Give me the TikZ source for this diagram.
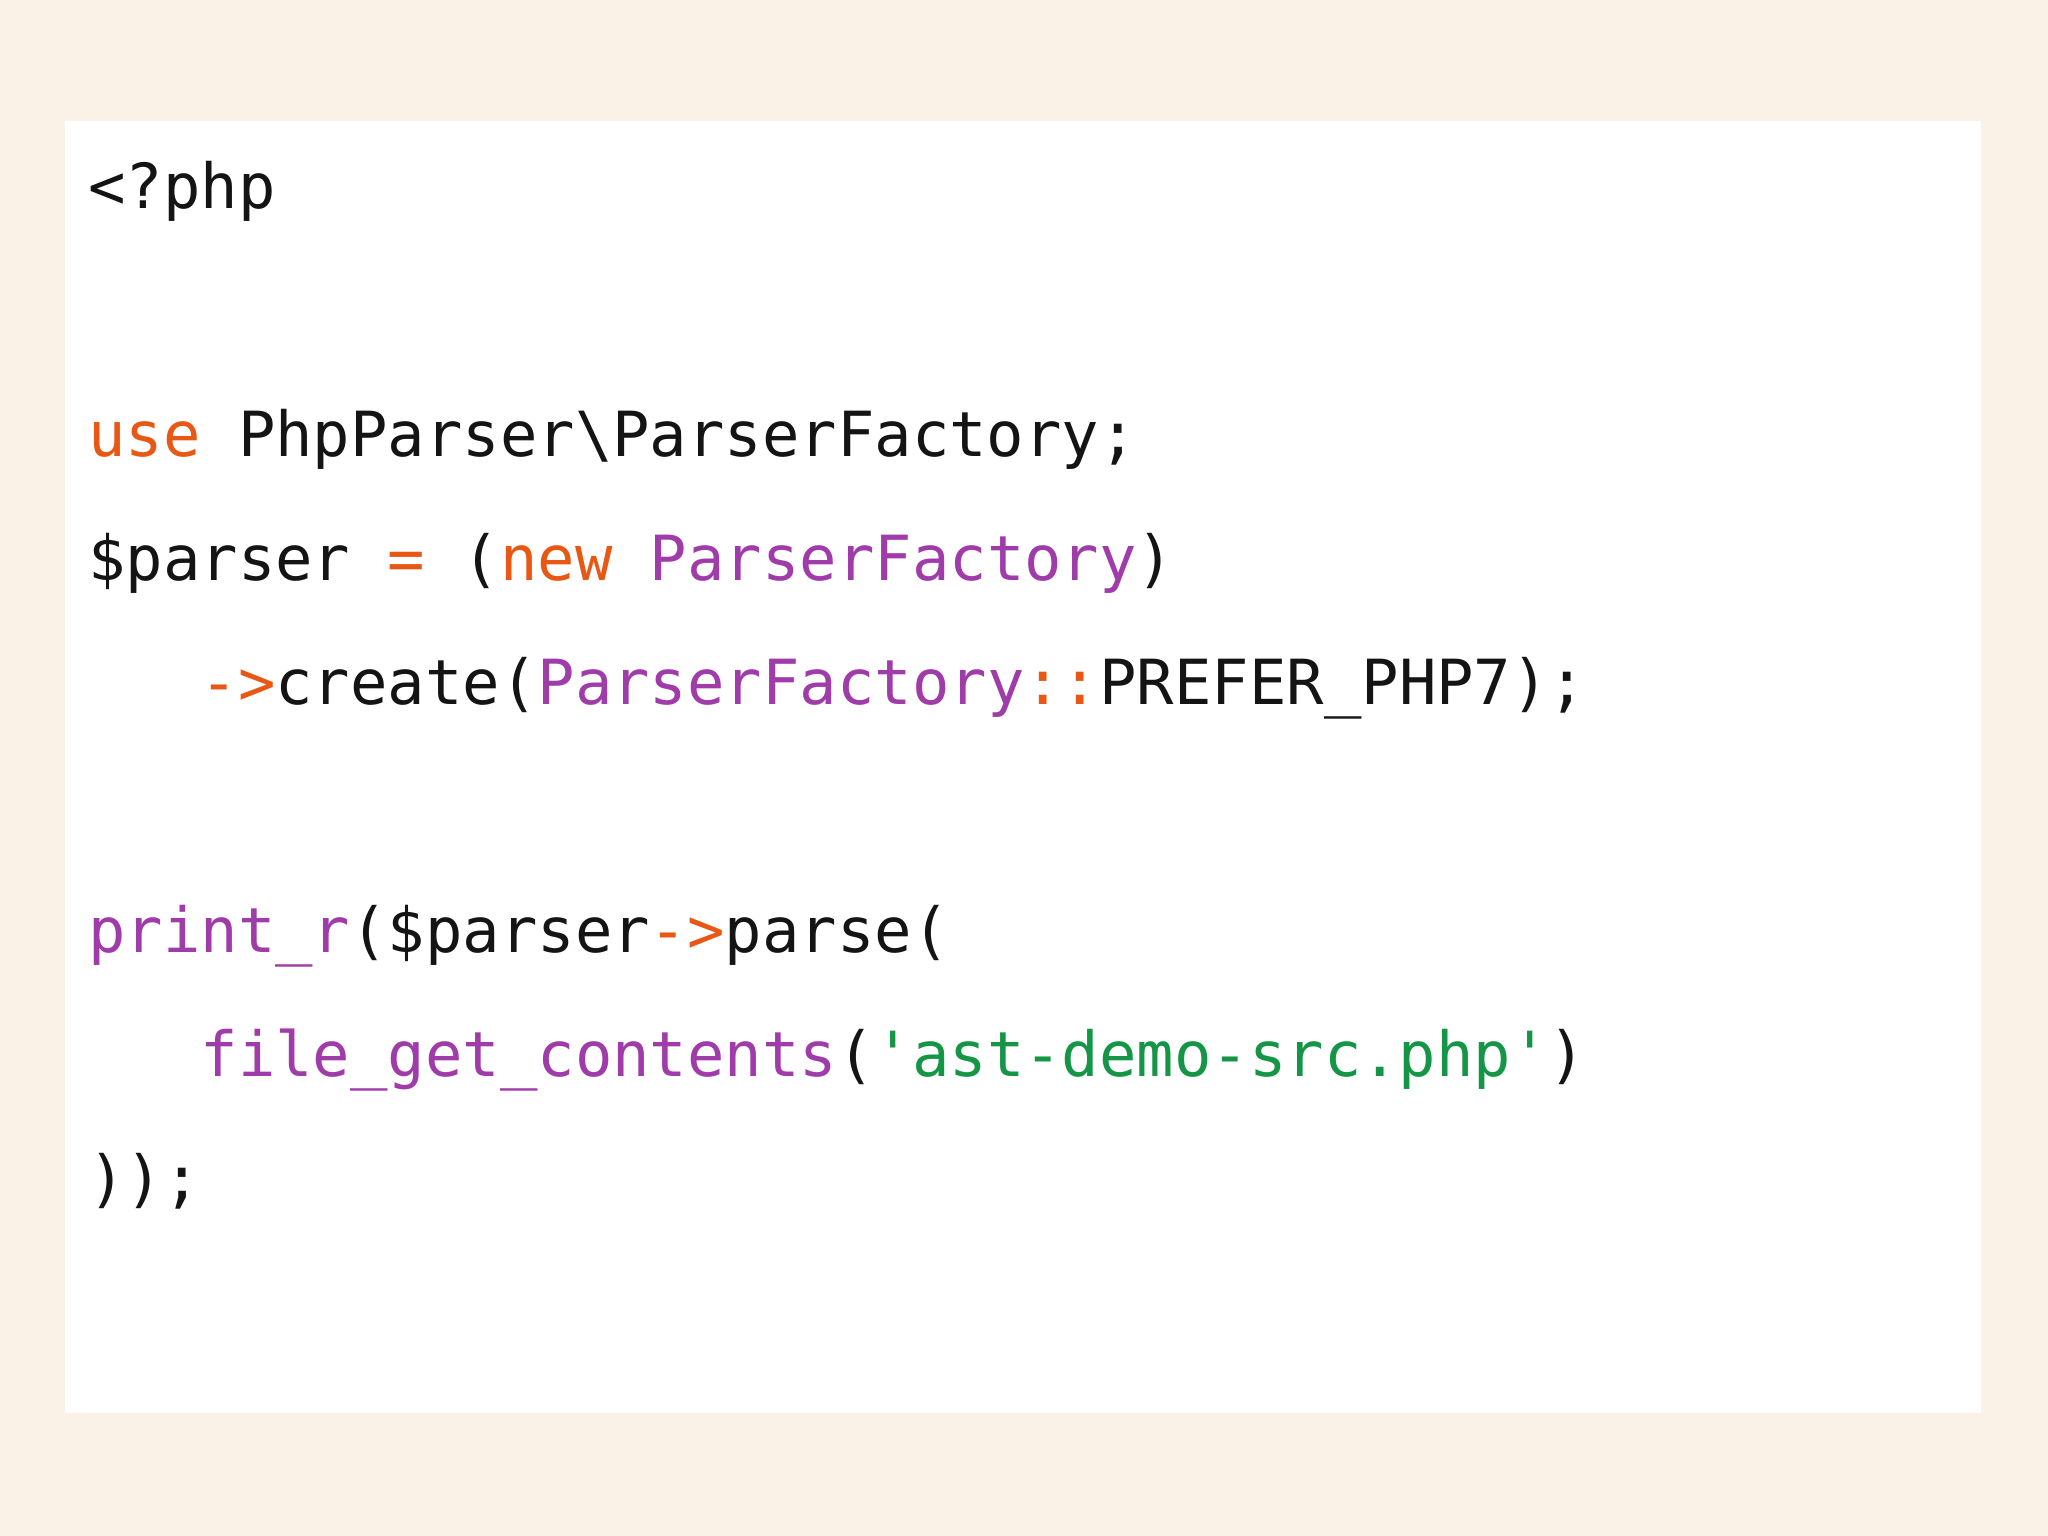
\documentclass[tikz,border=0pt]{standalone}
\usepackage{fontspec}
\setmonofont{DejaVu Sans Mono}
\definecolor{bg}{RGB}{250,242,230}
\definecolor{kw}{RGB}{232,88,20}
\definecolor{pu}{RGB}{160,60,170}
\definecolor{gr}{RGB}{20,150,70}
\definecolor{tx}{RGB}{20,20,20}
\tikzset{code/.style={anchor=base west,inner sep=0pt,font=\ttfamily\fontsize{17.7}{20}\selectfont,text=tx}}
\begin{document}
\begin{tikzpicture}
\fill[bg] (0,0) rectangle (20.48,15.36);
\fill[white] (0.65,15.36-14.13) rectangle (19.81,15.36-1.21);
\node[code] (l1) at (0.875,15.36-2.09) {<?php};
\node[code] (l2) at (0.875,15.36-4.57) {\textcolor{kw}{use}~PhpParser\textbackslash ParserFactory;};
\node[code] (l3) at (0.875,15.36-5.81) {\$parser~\textcolor{kw}{=}~(\textcolor{kw}{new}~\textcolor{pu}{ParserFactory})};
\node[code] (l4) at (0.875,15.36-7.05) {~~~\textcolor{kw}{->}create(\textcolor{pu}{ParserFactory}\textcolor{kw}{::}PREFER\_PHP7);};
\node[code] (l5) at (0.875,15.36-9.53) {\textcolor{pu}{print\_r}(\$parser\textcolor{kw}{->}parse(};
\node[code] (l6) at (0.875,15.36-10.77) {~~~\textcolor{pu}{file\_get\_contents}(\textcolor{gr}{'ast-demo-src.php'})};
\node[code] (l7) at (0.875,15.36-12.01) {));};
\end{tikzpicture}
\end{document}
